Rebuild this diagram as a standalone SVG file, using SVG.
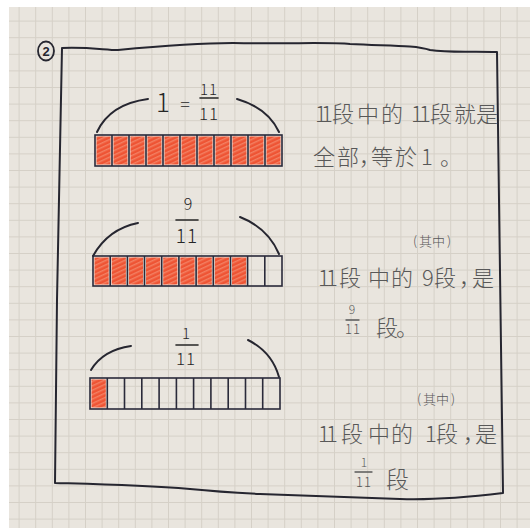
<svg xmlns="http://www.w3.org/2000/svg" width="530" height="529" viewBox="0 0 530 529">
  <defs>
    <pattern id="grid" patternUnits="userSpaceOnUse" width="16.6" height="16.6" x="2" y="4">
      <path d="M0,0.5 H16.6 M0.5,0 V16.6" fill="none" stroke="#d5d0c7" stroke-width="1"/>
    </pattern>
    <pattern id="hatch" patternUnits="userSpaceOnUse" width="4" height="4" patternTransform="rotate(-25)">
      <rect width="4" height="4" fill="#ee5434"/>
      <line x1="0" y1="0.8" x2="4" y2="0.8" stroke="#f59a7e" stroke-width="0.9"/>
    </pattern>
    <style>
      .ink{fill:none;stroke:#262630;stroke-width:2;stroke-linecap:round;stroke-linejoin:round}
      .cell{fill:none;stroke:#2a2a3a;stroke-width:1.6}
      .shade{fill:url(#hatch)}
      .frac{font-family:"Noto Sans CJK SC","Noto Sans",sans-serif;font-weight:300;fill:#262626}
      .pen{font-family:"Noto Sans CJK SC","Noto Sans CJK TC",sans-serif;font-weight:300;fill:#585858}
      .fbar{stroke:#262626;stroke-width:1.6;stroke-linecap:round}
      .pbar{stroke:#5a5a5a;stroke-width:1.3;stroke-linecap:round}
    </style>
  </defs>

  <!-- paper -->
  <rect width="530" height="529" fill="#ffffff"/>
  <rect x="9" y="7" width="521" height="521" fill="#e9e5de"/>
  <rect x="9" y="7" width="521" height="521" fill="url(#grid)"/>

  <!-- circled number -->
  <g id="label-2">
    <ellipse cx="46" cy="51" rx="8" ry="9.5" fill="none" stroke="#262630" stroke-width="1.8"/>
    <text x="46" y="56" text-anchor="middle" font-family="Liberation Sans, sans-serif" font-size="13" font-weight="bold" fill="#262630">2</text>
  </g>

  <!-- frame -->
  <g id="frame">
    <path class="ink" d="M62,48 C90,47 105,50 118,50 C160,46 200,43 233,43 C290,44 330,42 350,44 C390,46 415,45 430,50 C450,53 470,51 497,52 L503,493 C470,497 430,500 400,499 C340,497 300,495 260,494 C220,492 200,490 190,489 C140,485 90,484 55,483 L57,300 L62,48"/>
  </g>

  <!-- bar 1: 11/11 -->
  <g id="bar-1">
    <path class="ink" d="M97,132 Q110,104 148,99"/>
    <path class="ink" d="M237,99 Q268,108 279,132"/>
    <text class="frac" x="163" y="112" font-size="26" text-anchor="middle">1</text>
    <text class="frac" x="185" y="111" font-size="18" text-anchor="middle">=</text>
    <text class="frac" x="209" y="95" font-size="15" text-anchor="middle" letter-spacing="1">11</text>
    <line class="fbar" x1="200" y1="98" x2="218" y2="98"/>
    <text class="frac" x="209" y="120" font-size="17" text-anchor="middle" letter-spacing="1">11</text>
    <g>
      <rect class="shade" x="96.5" y="136.5" width="14" height="28"/>
      <rect class="shade" x="113.5" y="136.5" width="14" height="28"/>
      <rect class="shade" x="130.5" y="136.5" width="14" height="28"/>
      <rect class="shade" x="147.5" y="136.5" width="14" height="28"/>
      <rect class="shade" x="164.5" y="136.5" width="14" height="28"/>
      <rect class="shade" x="181.5" y="136.5" width="14" height="28"/>
      <rect class="shade" x="198.5" y="136.5" width="14" height="28"/>
      <rect class="shade" x="215.5" y="136.5" width="14" height="28"/>
      <rect class="shade" x="232.5" y="136.5" width="14" height="28"/>
      <rect class="shade" x="249.5" y="136.5" width="14" height="28"/>
      <rect class="shade" x="266.5" y="136.5" width="14" height="28"/>
    </g>
    <rect class="cell" x="95" y="135" width="187" height="31"/>
    <path class="cell" d="M112,135V166 M129,135V166 M146,135V166 M163,135V166 M180,135V166 M197,135V166 M214,135V166 M231,135V166 M248,135V166 M265,135V166"/>
  </g>

  <!-- bar 2: 9/11 -->
  <g id="bar-2">
    <path class="ink" d="M93,256 Q108,229 138,223"/>
    <path class="ink" d="M240,217 Q268,228 279,254"/>
    <text class="frac" x="188" y="210" font-size="16" text-anchor="middle">9</text>
    <line class="fbar" x1="176" y1="220" x2="198" y2="220"/>
    <text class="frac" x="187" y="243" font-size="19" text-anchor="middle" letter-spacing="1">11</text>
    <g>
      <rect class="shade" x="94.5" y="257.5" width="14.2" height="27"/>
      <rect class="shade" x="111.7" y="257.5" width="14.2" height="27"/>
      <rect class="shade" x="128.9" y="257.5" width="14.2" height="27"/>
      <rect class="shade" x="146" y="257.5" width="14.2" height="27"/>
      <rect class="shade" x="163.2" y="257.5" width="14.2" height="27"/>
      <rect class="shade" x="180.4" y="257.5" width="14.2" height="27"/>
      <rect class="shade" x="197.6" y="257.5" width="14.2" height="27"/>
      <rect class="shade" x="214.8" y="257.5" width="14.2" height="27"/>
      <rect class="shade" x="232" y="257.5" width="14.2" height="27"/>
    </g>
    <rect class="cell" x="93" y="256" width="189" height="30"/>
    <path class="cell" d="M110.2,256V286 M127.4,256V286 M144.5,256V286 M161.7,256V286 M178.9,256V286 M196.1,256V286 M213.3,256V286 M230.5,256V286 M247.6,256V286 M264.8,256V286"/>
  </g>

  <!-- bar 3: 1/11 -->
  <g id="bar-3">
    <path class="ink" d="M91,370 Q103,350 131,346"/>
    <path class="ink" d="M248,340 Q272,352 279,377"/>
    <text class="frac" x="186" y="339" font-size="15" text-anchor="middle">1</text>
    <line class="fbar" x1="176" y1="345" x2="198" y2="345"/>
    <text class="frac" x="186" y="365" font-size="17" text-anchor="middle" letter-spacing="1">11</text>
    <rect class="shade" x="91.5" y="379.5" width="14.3" height="28"/>
    <rect class="cell" x="90" y="378" width="190" height="31"/>
    <path class="cell" d="M107.3,378V409 M124.5,378V409 M141.8,378V409 M159.1,378V409 M176.4,378V409 M193.6,378V409 M210.9,378V409 M228.2,378V409 M245.5,378V409 M262.7,378V409"/>
  </g>

  <!-- explanation text -->
  <g id="text-1">
    <text class="pen" font-size="22" y="122" x="315 321 332 357 381 411 419 430 454 476">11段中的11段就是</text>
    <text class="pen" font-size="22" y="165" x="313 337 359 371 395 410 421 432 440">全部，等於 1 。</text>
  </g>

  <g id="text-2">
    <text class="pen" font-size="13" y="246" x="413 419 432 447">(其中)</text>
    <text class="pen" font-size="22" y="286" x="318 326 339 368 391 422 434 459 472">11段中的9段，是</text>
    <text class="pen" font-size="12" y="314" x="352" text-anchor="middle">9</text>
    <line class="pbar" x1="346" y1="320" x2="359" y2="320"/>
    <text class="pen" font-size="13" y="334" x="353" text-anchor="middle" letter-spacing="1">11</text>
    <text class="pen" font-size="22" y="336" x="376 396">段。</text>
  </g>

  <g id="text-3">
    <text class="pen" font-size="13" y="404" x="417 423 436 451">(其中)</text>
    <text class="pen" font-size="22" y="442" x="318 326 341 368 391 425 436 463 475">11段中的1段，是</text>
    <text class="pen" font-size="12" y="467" x="364" text-anchor="middle">1</text>
    <line class="pbar" x1="355" y1="472" x2="372" y2="472"/>
    <text class="pen" font-size="13" y="487" x="364" text-anchor="middle" letter-spacing="1">11</text>
    <text class="pen" font-size="23" y="488" x="386">段</text>
  </g>
</svg>
